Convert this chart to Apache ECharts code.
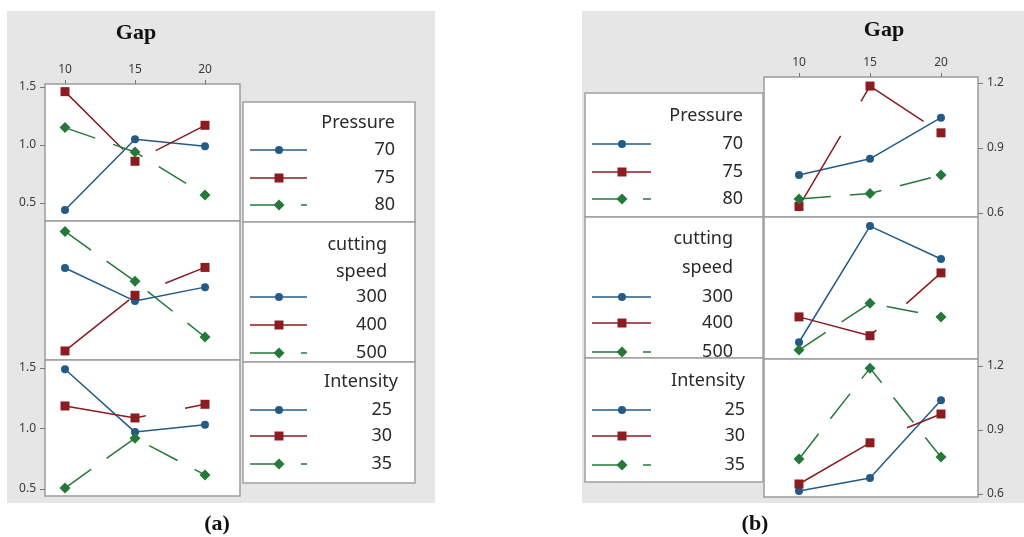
<!DOCTYPE html>
<html><head><meta charset="utf-8">
<script src="https://cdn.jsdelivr.net/npm/echarts@6/dist/echarts.min.js"></script>
<style>html,body{margin:0;padding:0;background:#fff}#c{width:1024px;height:537px}</style>
</head><body><div id="c"></div><script>
// ---------------- data ----------------
const gapLevels = [10, 15, 20];
const xTicks = [10, 15, 20];
const aYTicks = [0.5, 1.0, 1.5];
const bYTicks = [0.6, 0.9, 1.2];
const axisTitle = 'Gap';
const panelLabels = ['(a)', '(b)'];
const factorTitles = [['Pressure'], ['cutting', 'speed'], ['Intensity']];
const pressureLevels = ['70', '75', '80'];
const speedLevels = ['300', '400', '500'];
const intensityLevels = ['25', '30', '35'];
// panel (a) means, one row per level, one column per gap level
const aPressure  = [[0.44, 1.05, 0.99], [1.46, 0.86, 1.17], [1.15, 0.94, 0.57]];
const aSpeed     = [[1.125, 0.84, 0.96], [0.41, 0.89, 1.13], [1.44, 1.01, 0.53]];
const aIntensity = [[1.49, 0.97, 1.03], [1.186, 1.087, 1.20], [0.508, 0.92, 0.616]];
// panel (b)
const bPressure  = [[0.775, 0.85, 1.04], [0.63, 1.186, 0.97], [0.665, 0.69, 0.775]];
const bSpeed     = [[0.65, 1.186, 1.034], [0.767, 0.68, 0.97], [0.614, 0.83, 0.767]];
const bIntensity = [[0.614, 0.675, 1.04], [0.647, 0.84, 0.975], [0.764, 1.19, 0.773]];

// ---------------- style / layout ----------------
const colors = ['#245a88', '#8a1c22', '#25783a'];
const symbols = ['circle', 'rect', 'diamond'];
const symbolSizes = [8, 9, 11];
const dashes = ['solid', [82, 40], [32, 19]];
const levelsByFactor = [pressureLevels, speedLevels, intensityLevels];

const panels = [
  { values: [aPressure, aSpeed, aIntensity], yTicks: aYTicks,
    left: 45, width: 195, tops: [84, 221, 360], heights: [137, 139, 136],
    xMin: 8.571, xMax: 22.5,
    yRanges: [[0.345, 1.526], [0.332, 1.53], [0.442, 1.566]], yPos: 'left', showY: [true, false, true],
    bg: [7, 11, 428, 492], titleX: 136, titleY: 33, labelX: 217,
    lg: { x: 243, w: 172, tops: [102, 222, 362], hs: [120, 140, 121],
          titleY: [[123], [245, 272], [382]], titleR: [395, 387, 398],
          itemY: [[150, 178, 205], [297, 325, 353], [410, 436, 464]], itemR: [395, 387, 392],
          lx1: 250, lx2: 307, mx: 279 } },
  { values: [bPressure, bSpeed, bIntensity], yTicks: bYTicks,
    left: 764, width: 214, tops: [77, 217, 359], heights: [140, 142, 138],
    xMin: 7.535, xMax: 22.606,
    yRanges: [[0.5815, 1.2277], [0.5727, 1.228], [0.586, 1.2328]], yPos: 'right', showY: [true, false, true],
    bg: [582, 11, 442, 492], titleX: 884, titleY: 30, labelX: 755,
    lg: { x: 585, w: 178, tops: [93, 217, 358], hs: [124, 141, 124],
          titleY: [[116], [239, 268], [381]], titleR: [743, 733, 745],
          itemY: [[144, 172, 199], [297, 323, 352], [410, 436, 465]], itemR: [743, 733, 745],
          lx1: 592, lx2: 651, mx: 622 } }
];

const grids = [], xAxes = [], yAxes = [], series = [], graphics = [];
const tickFont = { fontSize: 12, fontFamily: 'Noto Sans', color: '#3a3a3a' };
const legendFont = '18px "Noto Sans"';

panels.forEach((p, pi) => {
  graphics.push({ type: 'rect', z: -10, shape: { x: p.bg[0], y: p.bg[1], width: p.bg[2], height: p.bg[3] },
    style: { fill: '#e6e6e6' } });
  graphics.push({ type: 'text', z: 10, style: { text: axisTitle, x: p.titleX, y: p.titleY,
    textAlign: 'center', textVerticalAlign: 'middle', font: 'bold 22px "Liberation Serif"', fill: '#111' } });
  graphics.push({ type: 'text', z: 10, style: { text: panelLabels[pi], x: p.labelX, y: 524,
    textAlign: 'center', textVerticalAlign: 'middle', font: 'bold 22px "Liberation Serif"', fill: '#111' } });

  for (let f = 0; f < 3; f++) {
    const gi = grids.length;
    grids.push({ left: p.left, top: p.tops[f], width: p.width, height: p.heights[f],
      show: true, borderColor: '#9c9c9c', borderWidth: 1.5, backgroundColor: '#fff' });
    xAxes.push({ type: 'value', gridIndex: gi, position: 'top', min: p.xMin, max: p.xMax,
      show: f === 0, axisLine: { show: false }, splitLine: { show: false },
      axisTick: { show: true, length: 4, customValues: xTicks, lineStyle: { color: '#777' } },
      axisLabel: { show: true, margin: 8, customValues: xTicks, ...tickFont } });
    yAxes.push({ type: 'value', gridIndex: gi, position: p.yPos, min: p.yRanges[f][0], max: p.yRanges[f][1],
      show: p.showY[f], axisLine: { show: false }, splitLine: { show: false },
      axisTick: { show: true, length: 5, customValues: p.yTicks, lineStyle: { color: '#777' } },
      axisLabel: { show: true, margin: 9, customValues: p.yTicks, formatter: v => v.toFixed(1), ...tickFont } });

    const levels = levelsByFactor[f];
    levels.forEach((lv, li) => {
      series.push({ type: 'line', name: lv, xAxisIndex: gi, yAxisIndex: gi,
        data: gapLevels.map((g, k) => [g, p.values[f][li][k]]),
        symbol: symbols[li], symbolSize: symbolSizes[li], showSymbol: true,
        itemStyle: { color: colors[li] },
        lineStyle: { color: colors[li], width: 1.5, type: dashes[li] },
        z: 2 + li, animation: false, silent: true });
    });

    // legend box
    const L = p.lg;
    graphics.push({ type: 'rect', z: 5, shape: { x: L.x, y: L.tops[f], width: L.w, height: L.hs[f] },
      style: { fill: '#fff', stroke: '#a0a0a0', lineWidth: 1.5 } });
    factorTitles[f].forEach((t, ti) => {
      graphics.push({ type: 'text', z: 10, style: { text: t, x: L.titleR[f], y: L.titleY[f][ti],
        textAlign: 'right', textVerticalAlign: 'middle', font: legendFont, fill: '#2a2a2a' } });
    });
    levels.forEach((lv, li) => {
      const y = L.itemY[f][li];
      graphics.push({ type: 'line', z: 10, shape: { x1: L.lx1, y1: y, x2: L.lx2, y2: y },
        style: { stroke: colors[li], lineWidth: 1.5, lineDash: dashes[li] === 'solid' ? null : dashes[li] } });
      const c = colors[li];
      if (li === 0) graphics.push({ type: 'circle', z: 11, shape: { cx: L.mx, cy: y, r: 4 }, style: { fill: c } });
      else if (li === 1) graphics.push({ type: 'rect', z: 11, shape: { x: L.mx - 4.5, y: y - 4.5, width: 9, height: 9 }, style: { fill: c } });
      else graphics.push({ type: 'polygon', z: 11, shape: { points: [[L.mx, y - 5.5], [L.mx + 5.5, y], [L.mx, y + 5.5], [L.mx - 5.5, y]] }, style: { fill: c } });
      graphics.push({ type: 'text', z: 10, style: { text: lv, x: L.itemR[f], y: y,
        textAlign: 'right', textVerticalAlign: 'middle', font: legendFont, fill: '#2a2a2a' } });
    });
  }
});

const chart = echarts.init(document.getElementById('c'), null, { renderer: 'canvas' });
chart.setOption({
  animation: false,
  grid: grids, xAxis: xAxes, yAxis: yAxes, series: series,
  graphic: { elements: graphics }
});
</script></body></html>
